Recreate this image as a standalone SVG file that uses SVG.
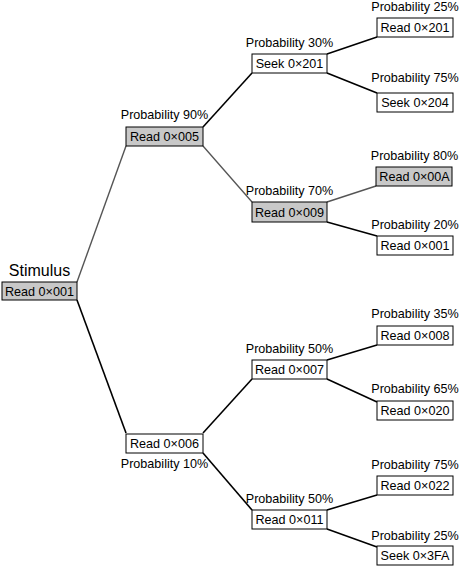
<svg xmlns="http://www.w3.org/2000/svg" width="459" height="566" viewBox="0 0 459 566">
<style>
.box{fill:#fff;stroke:#000;stroke-width:1}
.hi{fill:#c8c8c8;stroke:#000;stroke-width:1}
text{font-family:"Liberation Sans",Arial,sans-serif;font-size:12.6px;text-anchor:middle;fill:#000}
.big{font-size:16px}
.c{stroke:#000;stroke-width:1.6;fill:none}
.g{stroke:#555;stroke-width:1.4;fill:none}
</style>
<rect width="459" height="566" fill="#fff"/>
<g id="connectors">
<line class="g" x1="77" y1="282" x2="126" y2="146"/>
<line class="c" x1="77" y1="300" x2="126" y2="433"/>
<line class="c" x1="203" y1="127" x2="252" y2="73"/>
<line class="g" x1="203" y1="146" x2="252" y2="202"/>
<line class="c" x1="327" y1="54" x2="377" y2="37"/>
<line class="c" x1="327" y1="73" x2="377" y2="93"/>
<line class="g" x1="327" y1="202" x2="376" y2="186"/>
<line class="c" x1="327" y1="222" x2="377" y2="236"/>
<line class="c" x1="203" y1="433" x2="252" y2="379"/>
<line class="c" x1="203" y1="453" x2="252" y2="510"/>
<line class="c" x1="327" y1="360" x2="377" y2="345"/>
<line class="c" x1="327" y1="379" x2="377" y2="402"/>
<line class="c" x1="327" y1="510" x2="377" y2="495"/>
<line class="c" x1="327" y1="529" x2="377" y2="547"/>
</g>
<g id="root">
<text class="big" x="39.5" y="276">Stimulus</text>
<rect class="hi" x="2" y="282" width="75" height="18"/>
<text x="39.5" y="295.5">Read 0×001</text>
</g>
<g id="n005">
<text x="164.5" y="119">Probability 90%</text>
<rect class="hi" x="126" y="127" width="77" height="19"/>
<text x="164.5" y="141">Read 0×005</text>
</g>
<g id="n006">
<rect class="box" x="126" y="434" width="77" height="19"/>
<text x="164.5" y="448">Read 0×006</text>
<text x="164.5" y="468">Probability 10%</text>
</g>
<g id="s201">
<text x="289.5" y="47">Probability 30%</text>
<rect class="box" x="252" y="54" width="75" height="19"/>
<text x="289.5" y="68">Seek 0×201</text>
</g>
<g id="n009">
<text x="289.5" y="195">Probability 70%</text>
<rect class="hi" x="252" y="202" width="75" height="20"/>
<text x="289.5" y="216.5">Read 0×009</text>
</g>
<g id="n007">
<text x="289.5" y="353">Probability 50%</text>
<rect class="box" x="252" y="360" width="75" height="19"/>
<text x="289.5" y="374">Read 0×007</text>
</g>
<g id="n011">
<text x="289.5" y="503">Probability 50%</text>
<rect class="box" x="252" y="510" width="75" height="19"/>
<text x="289.5" y="524">Read 0×011</text>
</g>
<g id="r201">
<text x="415" y="11">Probability 25%</text>
<rect class="box" x="377" y="18" width="76" height="19"/>
<text x="415" y="32">Read 0×201</text>
</g>
<g id="s204">
<text x="415" y="82">Probability 75%</text>
<rect class="box" x="377" y="93" width="76" height="19"/>
<text x="415" y="107">Seek 0×204</text>
</g>
<g id="r00A">
<text x="414.5" y="160">Probability 80%</text>
<rect class="hi" x="376" y="167" width="76" height="19"/>
<text x="414.5" y="181">Read 0×00A</text>
</g>
<g id="r001b">
<text x="415" y="229">Probability 20%</text>
<rect class="box" x="377" y="236" width="76" height="19"/>
<text x="415" y="250">Read 0×001</text>
</g>
<g id="r008">
<text x="415" y="318">Probability 35%</text>
<rect class="box" x="377" y="326" width="76" height="19"/>
<text x="415" y="340">Read 0×008</text>
</g>
<g id="r020">
<text x="415" y="393">Probability 65%</text>
<rect class="box" x="377" y="401" width="76" height="19"/>
<text x="415" y="415">Read 0×020</text>
</g>
<g id="r022">
<text x="415" y="469">Probability 75%</text>
<rect class="box" x="377" y="476" width="76" height="19"/>
<text x="415" y="490">Read 0×022</text>
</g>
<g id="s3FA">
<text x="415" y="540">Probability 25%</text>
<rect class="box" x="377" y="546" width="76" height="19"/>
<text x="415" y="560">Seek 0×3FA</text>
</g>
</svg>
